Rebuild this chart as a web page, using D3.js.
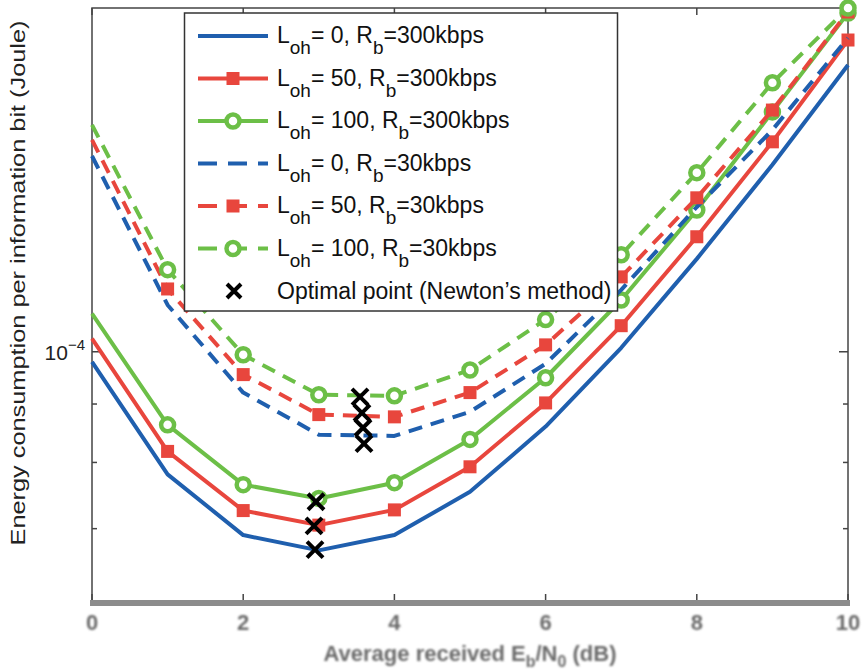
<!DOCTYPE html>
<html><head><meta charset="utf-8">
<script src="https://cdn.jsdelivr.net/npm/d3@7"></script>
<style>
body{margin:0;background:#fff}
svg{display:block}
text{font-family:"Liberation Sans",Arial,Helvetica,sans-serif}
</style>
</head><body>
<svg id="chart" width="862" height="672"></svg>
<script>
// ---------- data ----------
const xValues = [0,1,2,3,4,5,6,7,8,9,10];
const xTicks = [0,2,4,6,8,10];
const yMajorTicks = [1e-4];
const yMinorTicks = [7e-5, 8e-5, 9e-5];

const loh0_300k   = [9.80e-5, 7.81e-5, 6.91e-5, 6.70e-5, 6.91e-5, 7.54e-5, 8.60e-5, 1.008e-4, 1.206e-4, 1.458e-4, 1.783e-4];
const loh50_300k  = [1.027e-4, 8.18e-5, 7.26e-5, 7.05e-5, 7.27e-5, 7.93e-5, 9.02e-5, 1.054e-4, 1.261e-4, 1.527e-4, 1.875e-4];
const loh100_300k = [1.080e-4, 8.63e-5, 7.65e-5, 7.44e-5, 7.68e-5, 8.38e-5, 9.49e-5, 1.110e-4, 1.331e-4, 1.622e-4, 1.980e-4];
const loh0_30k    = [1.484e-4, 1.099e-4, 9.21e-5, 8.46e-5, 8.44e-5, 8.86e-5, 9.76e-5, 1.133e-4, 1.339e-4, 1.564e-4, 1.883e-4];
const loh50_30k   = [1.533e-4, 1.135e-4, 9.55e-5, 8.81e-5, 8.77e-5, 9.21e-5, 1.014e-4, 1.163e-4, 1.364e-4, 1.628e-4, 1.984e-4];
const loh100_30k  = [1.580e-4, 1.180e-4, 9.94e-5, 9.17e-5, 9.15e-5, 9.64e-5, 1.067e-4, 1.216e-4, 1.435e-4, 1.720e-4, 2.000e-4];

const optimalX = [2.963, 2.937, 2.950, 3.545, 3.571, 3.585, 3.598];
const optimalY = [7.39e-5, 7.04e-5, 6.71e-5, 9.13e-5, 8.84e-5, 8.58e-5, 8.31e-5];

const lohLabels = ["0", "50", "100", "0", "50", "100"];
const rateLabels = ["=300kbps", "=300kbps", "=300kbps", "=30kbps", "=30kbps", "=30kbps"];
const optimalLabel = "Optimal point (Newton\u2019s method)";
const xAxisTitle = ["Average received E", "b", "/N", "0", " (dB)"];
const yAxisTitle = "Energy consumption per information bit (Joule)";

// ---------- styles ----------
const BLUE = "#1f5fae", RED = "#e8463d", GREEN = "#6cbf47";
const series = [
  {values: loh0_300k,   color: BLUE,  dash: null,   marker: "none"},
  {values: loh50_300k,  color: RED,   dash: null,   marker: "square"},
  {values: loh100_300k, color: GREEN, dash: null,   marker: "circle"},
  {values: loh0_30k,    color: BLUE,  dash: "14,9", marker: "none"},
  {values: loh50_30k,   color: RED,   dash: "14,9", marker: "square"},
  {values: loh100_30k,  color: GREEN, dash: "14,9", marker: "circle"}
];

const svg = d3.select("#chart");
const X0 = 92, X1 = 848, Y0 = 601, Y1 = 8;
const x = d3.scaleLinear().domain([0,10]).range([X0, X1]);
const y = d3.scaleLog().domain([6.05e-5, 2e-4]).range([Y0, Y1]);

const defs = svg.append("defs");
defs.append("clipPath").attr("id","clip")
  .append("rect").attr("x", X0-12).attr("y", Y1-12).attr("width", X1-X0+24).attr("height", Y0-Y1+12);
const blur = defs.append("filter").attr("id","blur");
blur.append("feGaussianBlur").attr("stdDeviation",0.8);

// frame
svg.append("rect").attr("x", X0).attr("y", Y1).attr("width", X1-X0).attr("height", Y0-Y1)
  .attr("fill","none").attr("stroke","#444").attr("stroke-width",1.5);

// ticks
const yt = svg.append("g").attr("stroke","#444").attr("stroke-width",1.5);
yMajorTicks.forEach(v => {
  yt.append("line").attr("x1",X0).attr("x2",X0+9).attr("y1",y(v)).attr("y2",y(v));
  yt.append("line").attr("x1",X1).attr("x2",X1-9).attr("y1",y(v)).attr("y2",y(v));
});
yMinorTicks.forEach(v => {
  yt.append("line").attr("x1",X0).attr("x2",X0+5).attr("y1",y(v)).attr("y2",y(v));
  yt.append("line").attr("x1",X1).attr("x2",X1-5).attr("y1",y(v)).attr("y2",y(v));
});
xTicks.forEach(v => {
  yt.append("line").attr("x1",x(v)).attr("x2",x(v)).attr("y1",Y0).attr("y2",Y0-7);
  yt.append("line").attr("x1",x(v)).attr("x2",x(v)).attr("y1",Y1).attr("y2",Y1+7);
});
// thick grey bottom axis band
svg.append("rect").attr("x", X0-2).attr("y", Y0-1).attr("width", X1-X0+4).attr("height", 6)
  .attr("fill","#8c8c8c");

// y tick label 10^-4
yMajorTicks.forEach(v => {
  const t = svg.append("text").attr("x", 85).attr("y", y(v)+8).attr("text-anchor","end")
    .attr("font-size",21).attr("fill","#222");
  t.append("tspan").text("10");
  t.append("tspan").attr("dy",-10).attr("font-size",15).text("\u22124");
});

// x tick labels
xTicks.forEach(v => {
  svg.append("text").attr("x", x(v)).attr("y", 630).attr("text-anchor","middle")
    .attr("font-size",22).attr("font-weight","bold").attr("fill","#6a6a6a").attr("filter","url(#blur)").text(v);
});
// x axis title
{
  const t = svg.append("text").attr("x", 470).attr("y", 661).attr("text-anchor","middle")
    .attr("font-size",22).attr("font-weight","bold").attr("fill","#6a6a6a").attr("filter","url(#blur)");
  t.append("tspan").text(xAxisTitle[0]);
  t.append("tspan").attr("dy",6).attr("font-size",16).text(xAxisTitle[1]);
  t.append("tspan").attr("dy",-6).text(xAxisTitle[2]);
  t.append("tspan").attr("dy",6).attr("font-size",16).text(xAxisTitle[3]);
  t.append("tspan").attr("dy",-6).text(xAxisTitle[4]);
}
// y axis title
svg.append("text").attr("transform","translate(25,283) rotate(-90)").attr("text-anchor","middle")
  .attr("font-size",20).attr("fill","#222").attr("textLength",525).attr("lengthAdjust","spacingAndGlyphs")
  .text(yAxisTitle);

// ---------- series ----------
const g = svg.append("g").attr("clip-path","url(#clip)");
const line = d3.line().x((d,i) => x(xValues[i])).y(d => y(d));
function drawMarker(sel, type, color, cx, cy) {
  if (type === "square") {
    sel.append("rect").attr("x", cx-6.5).attr("y", cy-6.5).attr("width",13).attr("height",13).attr("fill",color);
  } else if (type === "circle") {
    sel.append("circle").attr("cx",cx).attr("cy",cy).attr("r",6.5)
      .attr("fill","#fff").attr("stroke",color).attr("stroke-width",4.5);
  }
}
series.forEach(s => {
  g.append("path").attr("d", line(s.values)).attr("fill","none").attr("stroke",s.color)
    .attr("stroke-width",4).attr("stroke-linejoin","round")
    .attr("stroke-dasharray", s.dash);
  s.values.forEach((v,i) => { if (i > 0) drawMarker(g, s.marker, s.color, x(xValues[i]), y(v)); });
});
function drawCross(sel, cx, cy, h) {
  sel.append("path").attr("d", `M${cx-h},${cy-h}L${cx+h},${cy+h}M${cx-h},${cy+h}L${cx+h},${cy-h}`)
    .attr("stroke","#000").attr("stroke-width",4).attr("fill","none");
}
optimalX.forEach((ox,i) => drawCross(g, x(ox), y(optimalY[i]), 8));

// ---------- legend ----------
const lg = svg.append("g");
lg.append("rect").attr("x",184.5).attr("y",13).attr("width",433).attr("height",298)
  .attr("fill","#fff").attr("stroke","#333").attr("stroke-width",1.5);
const rowY = i => 36 + i*42.5;
series.forEach((s,i) => {
  const ry = rowY(i);
  lg.append("line").attr("x1",198).attr("x2",268).attr("y1",ry).attr("y2",ry)
    .attr("stroke",s.color).attr("stroke-width",4).attr("stroke-dasharray", s.dash ? "19,11" : null);
  drawMarker(lg, s.marker, s.color, 233, ry);
  const t = lg.append("text").attr("x",277).attr("y",ry+7).attr("font-size",23).attr("fill","#111");
  t.append("tspan").text("L");
  t.append("tspan").attr("dy",11).attr("font-size",19).text("oh");
  t.append("tspan").attr("dy",-11).text("= " + lohLabels[i] + ", R");
  t.append("tspan").attr("dy",11).attr("font-size",19).text("b");
  t.append("tspan").attr("dy",-11).text(rateLabels[i]);
});
drawCross(lg, 234, rowY(6), 7);
lg.append("text").attr("x",277).attr("y",rowY(6)+8).attr("font-size",23).attr("fill","#111").text(optimalLabel);
</script>
</body></html>
